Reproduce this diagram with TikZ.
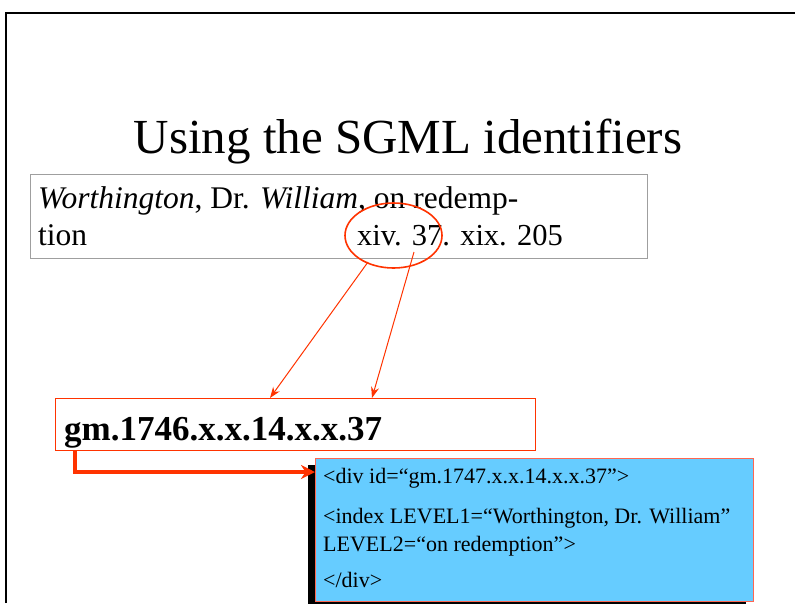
\documentclass[tikz,border=0pt]{standalone}
\usepackage{fontspec}
\setmainfont{Liberation Serif}
\usetikzlibrary{arrows.meta}
\definecolor{slred}{HTML}{FF3300}
\definecolor{slblue}{HTML}{66CCFF}
\definecolor{slbord}{HTML}{FF6650}
\tikzset{
  txt/.style={inner sep=0pt, anchor=base west},
  thinarrow/.style={draw=slred, line width=1pt, -{Stealth[length=11pt,width=8pt]}},
}
\begin{document}
\begin{tikzpicture}[x=1pt,y=-1pt]
\useasboundingbox (0,0) rectangle (795,603);
% slide frame
\draw[line width=2pt] (5.5,603) -- (5.5,13) -- (795,13);
% title
\node[txt, anchor=base] (title) at (408,153) {\fontsize{49}{56}\selectfont Using the SGML identifiers};
% index box
\node[draw=gray!75, line width=0.8pt, minimum width=617pt, minimum height=84pt, inner sep=0pt] (idx) at (338.5,216) {};
\node[txt] (l1) at (38,208) {\fontsize{31.5}{36}\selectfont \textit{Worthington}, Dr. \textit{William}, on redemp-};
\node[txt] (l2a) at (38,245) {\fontsize{31.5}{36}\selectfont tion};
\node[txt] (l2b) at (357,245) {\fontsize{30.5}{36}\selectfont xiv. 37. xix. 205};
% circle
\draw[slred, line width=1.6pt] (393.5,235.5) ellipse [x radius=48.5pt, y radius=32.5pt];
\coordinate (c1) at (368,262);
\coordinate (c2) at (414,252);
% id box
\node[draw=slred, line width=0.8pt, minimum width=480pt, minimum height=52pt, inner sep=0pt] (id) at (295,424) {};
\node[txt] (idt) at (64,440) {\fontsize{35}{40}\selectfont\bfseries gm.1746.x.x.14.x.x.37};
\coordinate (t1) at (270,398);
\coordinate (t2) at (372,398);
\draw[thinarrow] (c1) -- (t1);
\draw[thinarrow] (c2) -- (t2);
% sgml box with shadow
\fill[black] (308,465) rectangle (746,608);
\node[draw=slbord, fill=slblue, line width=0.8pt, minimum width=438pt, minimum height=143pt, inner sep=0pt, anchor=north west] (sg) at (315,457.5) {};
\node[txt] (s1) at (323,483) {\fontsize{22}{26}\selectfont <div id=“gm.1747.x.x.14.x.x.37”>};
\node[txt] (s2) at (323,523) {\fontsize{22}{26}\selectfont <index LEVEL1=“Worthington, Dr. William”};
\node[txt] (s3) at (323,551) {\fontsize{22}{26}\selectfont LEVEL2=“on redemption”>};
\node[txt] (s4) at (323,587) {\fontsize{22}{26}\selectfont </div>};
% thick elbow arrow
\coordinate (a0) at (75,451);
\coordinate (a1) at (75,472);
\draw[slred, line width=4pt, -{Stealth[length=14pt,width=14pt]}] (a0) -- (a1) -- (sg.west |- a1);
\end{tikzpicture}
\end{document}
